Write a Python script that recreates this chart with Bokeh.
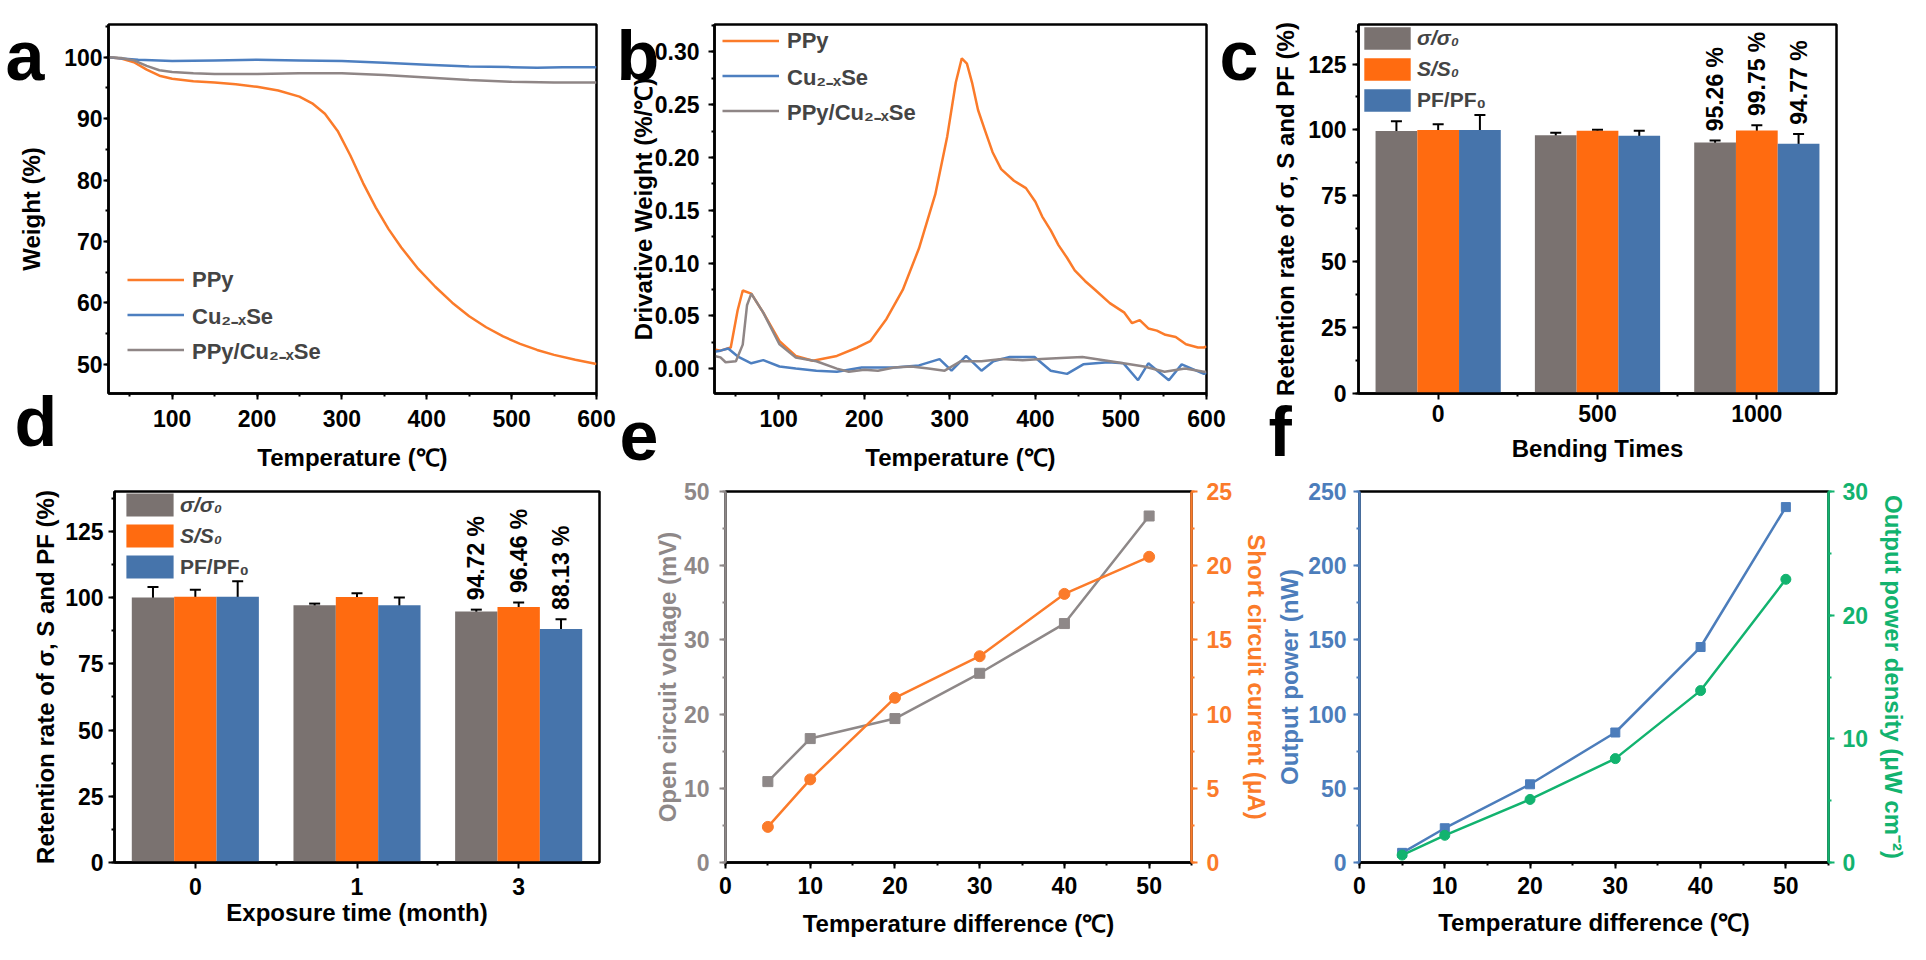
import numpy as np
from bokeh.plotting import figure
from bokeh.models import (Range1d, LinearAxis, SingleIntervalTicker, FixedTicker,
                          NumeralTickFormatter, Legend, LegendItem, Whisker,
                          TeeHead, ColumnDataSource)
from bokeh.layouts import row, column
from bokeh.core.properties import value
from bokeh.embed import file_html
from bokeh.resources import INLINE

FONT = "Liberation Sans"

# ---------------- data ----------------
# (a) TGA weight (%)
a_ppy_temp = [25, 40, 55, 70, 85, 100, 125, 150, 175, 200, 225, 250, 265, 280, 295, 310,
              325, 340, 355, 370, 390, 410, 430, 450, 470, 490, 510, 530, 550, 575, 600]
a_ppy_wt = [100.0, 99.8, 99.2, 98.0, 97.0, 96.5, 96.1, 95.9, 95.6, 95.2, 94.6, 93.6, 92.5,
            90.8, 88.0, 84.0, 79.5, 75.5, 72.0, 69.0, 65.5, 62.6, 60.0, 57.8, 56.0, 54.5,
            53.3, 52.3, 51.5, 50.7, 50.0]
a_cu_temp = [25, 40, 60, 100, 150, 200, 250, 300, 350, 400, 450, 500, 530, 560, 600]
a_cu_wt = [100.0, 99.8, 99.6, 99.4, 99.5, 99.6, 99.5, 99.4, 99.1, 98.8, 98.5, 98.4, 98.3,
           98.4, 98.4]
a_comp_temp = [25, 40, 55, 70, 85, 100, 125, 150, 200, 250, 300, 350, 400, 450, 500, 550, 600]
a_comp_wt = [100.0, 99.9, 99.5, 98.6, 97.9, 97.6, 97.4, 97.3, 97.3, 97.4, 97.4, 97.1, 96.7,
             96.3, 96.0, 95.9, 95.9]

# (b) DTG derivative weight (%/C)
b_ppy_temp = [25, 32, 44, 52, 58, 68, 82, 101, 120, 140, 168, 192, 207, 226, 245, 264, 283,
              297, 307, 314, 320, 326, 333, 341, 350, 360, 375, 389, 400, 408, 418, 427, 437,
              446, 458, 470, 487, 504, 513, 522, 532, 542, 552, 564, 576, 590, 597, 600]
b_ppy_dw = [0.018, 0.017, 0.020, 0.055, 0.074, 0.071, 0.053, 0.026, 0.012, 0.0075, 0.012,
            0.020, 0.026, 0.047, 0.0745, 0.114, 0.165, 0.22, 0.271, 0.294, 0.289, 0.271,
            0.245, 0.226, 0.205, 0.189, 0.178, 0.171, 0.158, 0.144, 0.131, 0.117, 0.105,
            0.093, 0.083, 0.0745, 0.062, 0.053, 0.043, 0.046, 0.038, 0.036, 0.032, 0.030,
            0.023, 0.020, 0.020, 0.021]
b_cu_temp = [25, 32, 41, 53, 68, 82, 101, 120, 144, 168, 197, 235, 264, 288, 302, 319, 337,
             351, 370, 399, 418, 437, 456, 485, 503, 520, 532, 556, 571, 597, 600]
b_cu_dw = [0.016, 0.017, 0.019, 0.011, 0.005, 0.008, 0.002, 0.0, -0.002, -0.003, 0.001,
           0.001, 0.003, 0.009, -0.002, 0.012, -0.002, 0.007, 0.011, 0.011, -0.002, -0.005,
           0.004, 0.006, 0.005, -0.011, 0.005, -0.011, 0.004, -0.005, -0.004]
b_comp_temp = [25, 32, 38, 50, 58, 63, 68, 82, 101, 120, 144, 168, 182, 200, 216, 235, 255,
               275, 294, 313, 337, 361, 385, 407, 430, 455, 480, 503, 527, 551, 575, 597, 600]
b_comp_dw = [0.012, 0.0106, 0.006, 0.007, 0.0227, 0.060, 0.071, 0.053, 0.023, 0.0105, 0.007,
             0.0, -0.003, -0.001, -0.002, 0.001, 0.002, 0.000, -0.002, 0.007, 0.007, 0.009,
             0.008, 0.009, 0.010, 0.011, 0.008, 0.005, 0.002, -0.003, 0.000, -0.003, -0.003]

# (c) bending retention (%)
c_categories = ["0", "500", "1000"]
c_sigma = [99.6, 98.0, 95.26]
c_sigma_err = [3.7, 0.9, 0.7]
c_seebeck = [100.0, 99.7, 99.75]
c_seebeck_err = [2.2, 0.4, 2.0]
c_pf = [100.0, 97.8, 94.77]
c_pf_err = [5.7, 1.9, 3.7]

# (d) exposure retention (%)
d_categories = ["0", "1", "3"]
d_sigma = [100.0, 97.1, 94.72]
d_sigma_err = [4.0, 0.6, 0.7]
d_seebeck = [100.3, 100.2, 96.46]
d_seebeck_err = [2.6, 1.4, 1.7]
d_pf = [100.3, 97.1, 88.13]
d_pf_err = [5.8, 2.9, 3.7]

# (e) device output vs temperature difference
e_dt = [5, 10, 20, 30, 40, 50]
e_voc = [10.9, 16.7, 19.4, 25.5, 32.2, 46.7]
e_isc = [2.4, 5.6, 11.1, 13.9, 18.1, 20.6]

# (f) output power
f_dt = [5, 10, 20, 30, 40, 50]
f_power = [6.5, 23.1, 52.7, 87.6, 145.2, 239.5]
f_density = [0.6, 2.2, 5.1, 8.4, 13.9, 22.9]

# ---------------- style ----------------
ORANGE = "#fb7b2a"
BLUE = "#4d7fc0"
GRAY = "#8f8686"
BAR_GRAY = "#7a7270"
BAR_ORANGE = "#ff6b10"
BAR_BLUE = "#4674ab"
E_GRAY = "#8e8888"
F_BLUE = "#4c7dbb"
F_GREEN = "#12b36f"
TICK_SIZE = "23px"
LABEL_SIZE = "24px"
LETTER_SIZE = 70


def make_fig(w, h, L, R, T, B, xr, yr):
    p = figure(width=w, height=h, x_range=Range1d(*xr), y_range=Range1d(*yr),
               output_backend="svg", toolbar_location=None,
               min_border_left=L, min_border_right=R, min_border_top=T, min_border_bottom=B)
    p.xgrid.visible = False
    p.ygrid.visible = False
    p.outline_line_color = "black"
    p.outline_line_width = 2.5
    p.background_fill_color = "white"
    p.border_fill_color = "white"
    g = dict(w=w, h=h, L=L, R=R, T=T, B=B, xr=xr, yr=yr)
    return p, g


def to_data(g, cx, cy):
    fw = g["w"] - g["L"] - g["R"]
    fh = g["h"] - g["T"] - g["B"]
    x = g["xr"][0] + (cx - g["L"]) / fw * (g["xr"][1] - g["xr"][0])
    y = g["yr"][1] - (cy - g["T"]) / fh * (g["yr"][1] - g["yr"][0])
    return x, y


def letter(p, g, ch, cx, baseline):
    # panel letter, drawn above the frame clip (overlay level); middle-anchored
    x, y = to_data(g, cx, baseline - 0.347 * LETTER_SIZE)
    p.text(x=[x], y=[y], text=[ch], text_font=value(FONT), text_font_style="bold",
           text_font_size=f"{LETTER_SIZE}px", text_align="left", text_baseline="middle",
           text_color="black", level="overlay")


def style_axis(ax, label, color="black", tick_out=6, standoff=6, label_standoff=10):
    ax.axis_label = label
    ax.axis_line_color = color
    ax.axis_line_width = 2.5
    ax.major_tick_line_color = color
    ax.major_tick_line_width = 2
    ax.minor_tick_line_color = color
    ax.minor_tick_line_width = 2
    ax.major_tick_out = tick_out
    ax.major_tick_in = 0
    ax.minor_tick_out = 3
    ax.minor_tick_in = 0
    ax.major_label_text_font = FONT
    ax.major_label_text_font_style = "bold"
    ax.major_label_text_font_size = TICK_SIZE
    ax.major_label_text_color = color
    ax.axis_label_text_font = FONT
    ax.axis_label_text_font_style = "bold"
    ax.axis_label_text_font_size = LABEL_SIZE
    ax.axis_label_text_color = color
    ax.major_label_standoff = standoff
    ax.axis_label_standoff = label_standoff


def line_legend(p, items, vx, vy):
    leg = Legend(items=items, location=(vx, vy), glyph_width=57, glyph_height=35,
                 label_height=35, spacing=0, padding=0, margin=0, label_standoff=8,
                 label_text_font=FONT, label_text_font_style="bold",
                 label_text_font_size="22px", background_fill_alpha=0,
                 border_line_color=None)
    p.add_layout(leg)


# ---------------- panel a ----------------
pa, ga = make_fig(616, 477, 108, 20, 7, 84, (25, 600), (45.2, 105.35))
style_axis(pa.xaxis[0], "Temperature (\u2103)", standoff=10, label_standoff=14)
style_axis(pa.yaxis[0], "Weight (%)", tick_out=5, standoff=1, label_standoff=16)
pa.xaxis[0].ticker = SingleIntervalTicker(interval=100, num_minor_ticks=2)
pa.yaxis[0].ticker = SingleIntervalTicker(interval=10, num_minor_ticks=2)
ra1 = pa.line(a_ppy_temp, a_ppy_wt, line_color=ORANGE, line_width=2.5)
ra2 = pa.line(a_cu_temp, a_cu_wt, line_color=BLUE, line_width=2.5)
ra3 = pa.line(a_comp_temp, a_comp_wt, line_color=GRAY, line_width=2.5)
line_legend(pa, [LegendItem(label="PPy", renderers=[ra1]),
                 LegendItem(label="Cu\u2082\u208b\u2093Se", renderers=[ra2]),
                 LegendItem(label="PPy/Cu\u2082\u208b\u2093Se", renderers=[ra3])], 19, 26)
letter(pa, ga, "a", 5, 64)
letter(pa, ga, "d", 14, 447)

# ---------------- panel b ----------------
pb, gb = make_fig(652, 477, 98, 62, 7, 84, (25, 600), (-0.0236, 0.326))
style_axis(pb.xaxis[0], "Temperature (\u2103)", standoff=10, label_standoff=14)
style_axis(pb.yaxis[0], "Drivative Weight (%/\u2103)", tick_out=6, standoff=9, label_standoff=-5)
pb.xaxis[0].ticker = SingleIntervalTicker(interval=100, num_minor_ticks=2)
pb.yaxis[0].ticker = SingleIntervalTicker(interval=0.05, num_minor_ticks=2)
pb.yaxis[0].formatter = NumeralTickFormatter(format="0.00")
rb1 = pb.line(b_ppy_temp, b_ppy_dw, line_color=ORANGE, line_width=2.5)
rb2 = pb.line(b_cu_temp, b_cu_dw, line_color=BLUE, line_width=2.5)
rb3 = pb.line(b_comp_temp, b_comp_dw, line_color=GRAY, line_width=2.5)
line_legend(pb, [LegendItem(label="PPy", renderers=[rb1]),
                 LegendItem(label="Cu\u2082\u208b\u2093Se", renderers=[rb2]),
                 LegendItem(label="PPy/Cu\u2082\u208b\u2093Se", renderers=[rb3])], 8, 265)
letter(pb, gb, "b", 0, 64)
letter(pb, gb, "c", 603, 64)
letter(pb, gb, "e", 3, 461)


# ---------------- bar panels ----------------
def bar_panel(p, cats, series, errs, colors, names, leg_vx, leg_vy1, leg_vy2, gw, gh):
    centers = np.arange(len(cats)) + 0.5
    offsets = [-0.262, 0.0, 0.262]
    p.xaxis[0].ticker = FixedTicker(ticks=list(centers), minor_ticks=[1.0, 2.0])
    p.xaxis[0].major_label_overrides = {float(c): lab for c, lab in zip(centers, cats)}
    p.yaxis[0].ticker = SingleIntervalTicker(interval=25, num_minor_ticks=2)
    rends = []
    for vals, err, col, off in zip(series, errs, colors, offsets):
        xs = centers + off
        v = np.array(vals)
        e = np.array(err)
        r = p.vbar(x=xs, top=v, bottom=0, width=0.262, fill_color=col, line_color=None)
        rends.append(r)
        src = ColumnDataSource(dict(x=xs, upper=v + e, lower=v - e))
        p.add_layout(Whisker(base="x", upper="upper", lower="lower", source=src,
                             line_width=2, line_color="black",
                             upper_head=TeeHead(size=11, line_width=2, line_color="black"),
                             lower_head=TeeHead(size=11, line_width=2, line_color="black")))
        p.text(x=[xs[-1]], y=[v[-1] + e[-1] + 3.5], text=[f"{v[-1]:.2f} %"],
               angle=np.pi / 2, text_font=value(FONT), text_font_style="bold",
               text_font_size="23px", text_align="left", text_baseline="middle",
               text_color="black")
    kw = dict(glyph_width=gw, glyph_height=gh, label_height=31, spacing=0, padding=0,
              margin=0, label_standoff=1, label_text_font=FONT,
              label_text_font_size="21px", background_fill_alpha=0, border_line_color=None)
    l1 = Legend(items=[LegendItem(label=names[0], renderers=[rends[0]]),
                       LegendItem(label=names[1], renderers=[rends[1]])],
                location=(leg_vx, leg_vy1), label_text_font_style="bold italic", **kw)
    l2 = Legend(items=[LegendItem(label=names[2], renderers=[rends[2]])],
                location=(leg_vx, leg_vy2), label_text_font_style="bold", **kw)
    p.add_layout(l1)
    p.add_layout(l2)


NAMES = ["\u03c3/\u03c3\u2080", "S/S\u2080", "PF/PF\u2080"]

pc, gc = make_fig(642, 477, 90, 74, 24, 79, (0, 3), (0, 140))
style_axis(pc.xaxis[0], "Bending Times", standoff=5, label_standoff=10)
style_axis(pc.yaxis[0], "Retention rate of \u03c3, S and PF (%)", standoff=6, label_standoff=6)
bar_panel(pc, c_categories, [c_sigma, c_seebeck, c_pf], [c_sigma_err, c_seebeck_err, c_pf_err],
          [BAR_GRAY, BAR_ORANGE, BAR_BLUE], NAMES, 0, 309, 278, 58, 28)
letter(pc, gc, "f", 0, 461)

pd, gd = make_fig(632, 467, 114, 33, 8, 79, (0, 3), (0, 140))
style_axis(pd.xaxis[0], "Exposure time (month)", standoff=9, label_standoff=1)
style_axis(pd.yaxis[0], "Retention rate of \u03c3, S and PF (%)", standoff=5, label_standoff=3)
bar_panel(pd, d_categories, [d_sigma, d_seebeck, d_pf], [d_sigma_err, d_seebeck_err, d_pf_err],
          [BAR_GRAY, BAR_ORANGE, BAR_BLUE], NAMES, 6, 311, 280, 59, 29)

# ---------------- panel e ----------------
pe, ge = make_fig(641, 467, 93, 79, 14, 82, (0, 55), (0, 50))
pe.extra_y_ranges = {"r": Range1d(0, 25)}
style_axis(pe.xaxis[0], "Temperature difference (\u2103)", standoff=8, label_standoff=13)
style_axis(pe.yaxis[0], "Open circuit voltage (mV)", color=E_GRAY, standoff=10, label_standoff=0)
pe.xaxis[0].ticker = SingleIntervalTicker(interval=10, num_minor_ticks=2)
pe.yaxis[0].ticker = SingleIntervalTicker(interval=10, num_minor_ticks=2)
ax_er = LinearAxis(y_range_name="r", ticker=SingleIntervalTicker(interval=5, num_minor_ticks=2))
style_axis(ax_er, "Short circuit current (\u03bcA)", color=ORANGE, standoff=9, label_standoff=8)
pe.add_layout(ax_er, "right")
pe.line(e_dt, e_voc, line_color=E_GRAY, line_width=2.5)
pe.scatter(e_dt, e_voc, marker="square", size=10, color=E_GRAY)
pe.line(e_dt, e_isc, line_color=ORANGE, line_width=2.5, y_range_name="r")
pe.scatter(e_dt, e_isc, marker="circle", size=11, color=ORANGE, y_range_name="r")

# ---------------- panel f ----------------
pf, gf = make_fig(637, 467, 86, 81, 13, 81, (0, 55), (0, 250))
pf.extra_y_ranges = {"r": Range1d(0, 30)}
style_axis(pf.xaxis[0], "Temperature difference (\u2103)", standoff=8, label_standoff=12)
style_axis(pf.yaxis[0], "Output power (nW)", color=F_BLUE, standoff=7, label_standoff=2)
pf.xaxis[0].ticker = SingleIntervalTicker(interval=10, num_minor_ticks=2)
pf.yaxis[0].ticker = SingleIntervalTicker(interval=50, num_minor_ticks=2)
ax_fr = LinearAxis(y_range_name="r", ticker=SingleIntervalTicker(interval=10, num_minor_ticks=2))
style_axis(ax_fr, "Output power density (\u03bcW cm\u207b\u00b2)", color=F_GREEN, standoff=8,
           label_standoff=9)
pf.add_layout(ax_fr, "right")
pf.line(f_dt, f_power, line_color=F_BLUE, line_width=2.5)
pf.scatter(f_dt, f_power, marker="square", size=9, color=F_BLUE)
pf.line(f_dt, f_density, line_color=F_GREEN, line_width=2.5, y_range_name="r")
pf.scatter(f_dt, f_density, marker="circle", size=10, color=F_GREEN, y_range_name="r")

layout = column(row(pa, pb, pc), row(pd, pe, pf))
open("out.html", "w").write(file_html(layout, INLINE))
